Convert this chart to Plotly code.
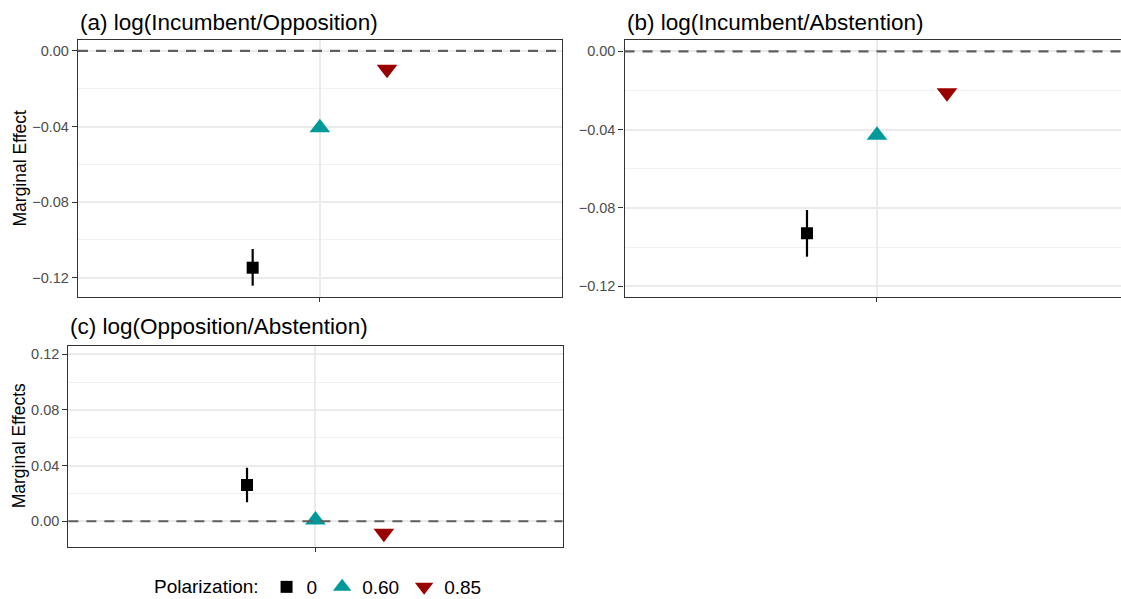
import plotly.graph_objects as go

W, H = 1121, 599
FONT = "Liberation Sans, Arial, Helvetica, sans-serif"

# Polarization levels and their marker styles
levels = ["0", "0.60", "0.85"]
symbols = ["square", "triangle-up", "triangle-down"]
colors = ["#000000", "#009999", "#990000"]
marker_sizes = [12, 18, 18]
dodge = [-1, 0, 1]

panel_titles = [
    "(a) log(Incumbent/Opposition)",
    "(b) log(Incumbent/Abstention)",
    "(c) log(Opposition/Abstention)",
]
y_titles = ["Marginal Effect", None, "Marginal Effects"]

# Marginal effects (point estimate, lower and upper bound), one value per level
estimate_a = [-0.1147, -0.0406, -0.0097]
lower_a = [-0.1242, -0.0421, -0.0111]
upper_a = [-0.1048, -0.0391, -0.0083]

estimate_b = [-0.0929, -0.0428, -0.0211]
lower_b = [-0.1049, -0.0443, -0.0225]
upper_b = [-0.0810, -0.0413, -0.0197]

estimate_c = [0.0261, 0.0009, -0.0086]
lower_c = [0.0137, -0.0004, -0.0099]
upper_c = [0.0385, 0.0022, -0.0073]

reference_value = 0.0

panel_data = [
    (estimate_a, lower_a, upper_a),
    (estimate_b, lower_b, upper_b),
    (estimate_c, lower_c, upper_c),
]

# Panel geometry in pixels: left, right, top, bottom
panel_px = [
    (78.0, 561.7, 40.0, 297.0),
    (624.5, 1121.0, 40.0, 297.0),
    (68.4, 562.5, 345.7, 547.0),
]
x_ranges = [[-3.6, 3.6], [-3.607, 3.486], [-3.61, 3.61]]
y_ranges = [[-0.1302, 0.0058], [-0.1255, 0.0058], [-0.0185, 0.1262]]
mirror_y = [True, False, True]
title_centers_px = [22.5, 22.5, 326.5]

fig = go.Figure()

for p, (est, lo, hi) in enumerate(panel_data):
    suffix = "" if p == 0 else str(p + 1)
    for k in range(len(levels)):
        fig.add_trace(go.Scatter(
            x=[dodge[k]],
            y=[est[k]],
            mode="markers",
            name=levels[k],
            legendgroup=levels[k],
            showlegend=(p == 0),
            marker=dict(symbol=symbols[k], size=marker_sizes[k], color=colors[k],
                        line=dict(width=0)),
            error_y=dict(type="data", symmetric=False,
                         array=[hi[k] - est[k]], arrayminus=[est[k] - lo[k]],
                         color=colors[k], thickness=2.2, width=0),
            xaxis="x" + suffix, yaxis="y" + suffix,
            hoverinfo="skip",
        ))

layout = dict(
    width=W, height=H,
    margin=dict(l=0, r=0, t=0, b=0, autoexpand=False),
    paper_bgcolor="white", plot_bgcolor="white",
    font=dict(family=FONT, color="#000000"),
    showlegend=True,
    legend=dict(
        orientation="h",
        x=152 / W, xanchor="left",
        y=1 - 587 / H, yanchor="middle",
        title=dict(text="Polarization:", side="left", font=dict(size=19, color="#000000")),
        font=dict(size=19, color="#000000"),
        bgcolor="rgba(0,0,0,0)",
    ),
)

shapes = []
annotations = []

for p in range(3):
    left, right, top, bottom = panel_px[p]
    suffix = "" if p == 0 else str(p + 1)
    xname = "xaxis" + suffix
    yname = "yaxis" + suffix
    layout[xname] = dict(
        domain=[left / W, min(right / W, 1.0)],
        range=x_ranges[p],
        anchor="y" + suffix,
        tickmode="array", tickvals=[0], ticktext=[""],
        ticks="outside", ticklen=4, tickwidth=1.3, tickcolor="#333333",
        showgrid=True, gridcolor="#EBEBEB", gridwidth=1.5,
        zeroline=False,
        showline=True, linecolor="#333333", linewidth=1.3, mirror=True,
        fixedrange=True,
    )
    layout[yname] = dict(
        domain=[1 - bottom / H, 1 - top / H],
        range=y_ranges[p],
        anchor="x" + suffix,
        tickmode="linear", tick0=0, dtick=0.04, tickformat=".2f",
        ticks="outside", ticklen=5, tickwidth=1.3, tickcolor="#333333",
        tickfont=dict(size=14.5, color="#4D4D4D"),
        showgrid=True, gridcolor="#EBEBEB", gridwidth=1.5,
        minor=dict(dtick=0.02, tick0=0, showgrid=True, gridcolor="#F0F0F0", gridwidth=0.9),
        zeroline=False,
        showline=True, linecolor="#333333", linewidth=1.3, mirror=mirror_y[p],
        fixedrange=True,
    )

    # dashed reference line at zero
    shapes.append(dict(
        type="line", xref="x" + suffix + " domain", yref="y" + suffix,
        x0=0, x1=1, y0=reference_value, y1=reference_value,
        line=dict(color="#5F5F5F", width=2.2, dash="10px,8px"),
        layer="above",
    ))

    annotations.append(dict(
        text=panel_titles[p], xref="paper", yref="paper",
        x=left / W, y=1 - title_centers_px[p] / H,
        xanchor="left", yanchor="middle", showarrow=False,
        font=dict(size=22.5, color="#000000"),
    ))
    if y_titles[p]:
        annotations.append(dict(
            text=y_titles[p], xref="paper", yref="paper",
            x=19 / W, y=1 - (top + bottom) / 2 / H,
            xanchor="center", yanchor="middle", textangle=-90, showarrow=False,
            font=dict(size=17.5, color="#000000"),
        ))

layout["shapes"] = shapes
layout["annotations"] = annotations
fig.update_layout(**layout)

fig.write_html("out.html")
